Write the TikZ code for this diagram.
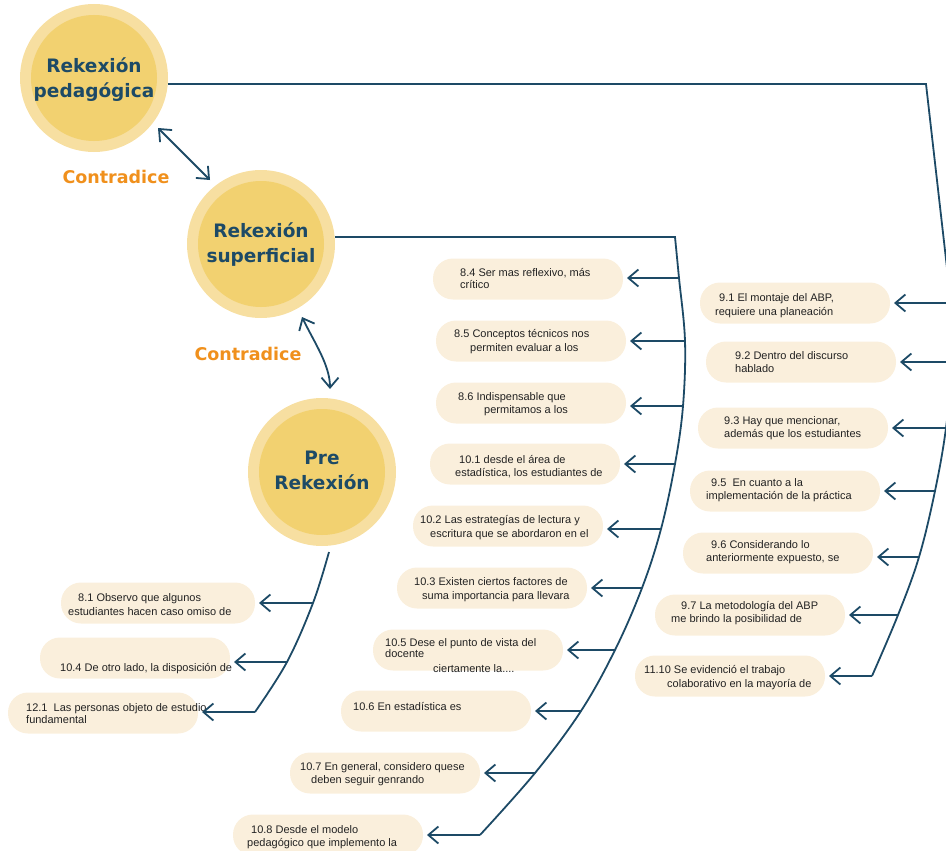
\documentclass[tikz,border=0pt]{standalone}
\usepackage{fontspec}
\setmainfont{Liberation Sans}
\newfontfamily\headfont{DejaVu Sans}
\usetikzlibrary{arrows.meta,calc}
\definecolor{navy}{HTML}{1D4A66}
\definecolor{ringc}{HTML}{F7DFA1}
\definecolor{corec}{HTML}{F2D170}
\definecolor{boxc}{HTML}{FAEFDC}
\definecolor{orangec}{HTML}{F0901C}
\definecolor{txtc}{HTML}{222222}
\newcounter{lnum}
\newcommand\tline[3]{\stepcounter{lnum}\node[txt] (l\arabic{lnum}) at (#1,#2+4) {#3};}
\tikzset{
  ln/.style={draw=navy, line width=1.8pt},
  arr/.style={ln, -{Straight Barb[length=10pt,width=17pt]}},
  dbl/.style={ln, {Straight Barb[length=10pt,width=17pt]}-{Straight Barb[length=10pt,width=17pt]}},
  box/.style={fill=boxc, rounded corners=20pt, minimum width=190pt, minimum height=41pt, inner sep=0pt, outer xsep=4pt},
  txt/.style={font=\fontsize{11}{13}\selectfont, text=txtc, inner sep=0pt, anchor=base west},
  ring/.style={circle, fill=ringc, minimum size=148pt, inner sep=0pt},
  core/.style={circle, fill=corec, minimum size=126pt, inner sep=0pt},
  ctext/.style={text=navy, align=center, inner sep=0pt, font=\headfont\bfseries\fontsize{18.5}{25}\selectfont},
  lab/.style={text=orangec, font=\headfont\bfseries\fontsize{17.5}{20}\selectfont, inner sep=0pt}
}
\begin{document}
\begin{tikzpicture}[x=1pt,y=-1pt]
\useasboundingbox (0,0) rectangle (946,851);

% circles
\node[ring] (c1) at (94,78) {};
\node[core] (c1i) at (c1) {};
\node[ctext] (c1t) at ([yshift=-2pt]c1) {Rekexión\\pedagógica};
\node[ring] (c2) at (261,244) {};
\node[core] (c2i) at (c2) {};
\node[ctext] (c2t) at ([yshift=-1pt]c2) {Rekexión\\superficial};
\node[ring] (c3) at (322,472) {};
\node[core] (c3i) at (c3) {};
\node[ctext] (c3t) at ([yshift=2pt]c3) {Pre\\Rekexión};

\node[lab] (k1) at (116,177) {Contradice};
\node[lab] (k2) at (248,354) {Contradice};

\coordinate (t1) at (158,128);
\coordinate (t2) at (210,180);
\coordinate (t3) at (302,317);
\coordinate (t4) at (330,389);
\draw[dbl] (t1) -- (t2);
\draw[dbl] (t3) .. controls (314,342) and (330,365) .. (t4);

% boxes right
\node[box] (b91) at (795,303) {};
\node[box] (b92) at (801,362) {};
\node[box] (b93) at (793,428) {};
\node[box] (b95) at (785,491) {};
\node[box] (b96) at (778,553) {};
\node[box] (b97) at (750,615) {};
\node[box] (b1110) at (730,676) {};
% boxes middle
\node[box] (b84) at (528,279) {};
\node[box] (b85) at (531,341) {};
\node[box] (b86) at (531,403) {};
\node[box] (b101) at (525,464) {};
\node[box] (b102) at (508,526) {};
\node[box] (b103) at (492,588) {};
\node[box] (b105) at (468,650) {};
\node[box] (b106) at (436,711) {};
\node[box] (b107) at (385,773) {};
\node[box] (b108) at (328,835) {};
% boxes left
\node[box, minimum width=194pt] (b81) at (158,603) {};
\node[box] (b104) at (135,658) {};
\node[box] (b121) at (103,713) {};

% texts right
\tline{719}{297}{9.1 El montaje del ABP,}
\tline{715}{311}{requiere una planeación}
\tline{735}{355}{9.2 Dentro del discurso}
\tline{735}{368}{hablado}
\tline{724}{420}{9.3 Hay que mencionar,}
\tline{724}{433}{además que los estudiantes}
\tline{711}{482}{9.5\ \ En cuanto a la}
\tline{706}{495}{implementación de la práctica}
\tline{711}{544}{9.6 Considerando lo}
\tline{706}{557}{anteriormente expuesto, se}
\tline{681}{605}{9.7 La metodología del ABP}
\tline{671}{618}{me brindo la posibilidad de}
\tline{644}{669}{11.10 Se evidenció el trabajo}
\tline{667}{683}{colaborativo en la mayoría de}
% texts middle
\tline{460}{272}{8.4 Ser mas reflexivo, más}
\tline{460}{284}{crítico}
\tline{454}{333}{8.5 Conceptos técnicos nos}
\tline{470}{347}{permiten evaluar a los}
\tline{458}{396}{8.6 Indispensable que}
\tline{484}{409}{permitamos a los}
\tline{459}{459}{10.1 desde el área de}
\tline{455}{472}{estadística, los estudiantes de}
\tline{420}{519}{10.2 Las estrategías de lectura y}
\tline{430}{533}{escritura que se abordaron en el}
\tline{414}{581}{10.3 Existen ciertos factores de}
\tline{422}{595}{suma importancia para llevara}
\tline{385}{642}{10.5 Dese el punto de vista del}
\tline{385}{653}{docente}
\tline{433}{668}{ciertamente la....}
\tline{353}{706}{10.6 En estadística es}
\tline{300}{766}{10.7 En general, considero quese}
\tline{311}{779}{deben seguir genrando}
\tline{251}{829}{10.8 Desde el modelo}
\tline{247}{842}{pedagógico que implemento la}
% texts left
\tline{78}{597}{8.1 Observo que algunos}
\tline{68}{611}{estudiantes hacen caso omiso de}
\tline{60}{667}{10.4 De otro lado, la disposición de}
\tline{26}{707}{12.1\ \ Las personas objeto de estudio}
\tline{26}{719}{fundamental}

% right spine
\coordinate (r0) at (926,84);
\coordinate (s91) at (951,303);
\coordinate (s92) at (952,362);
\coordinate (s93) at (946,428);
\coordinate (s95) at (935,491);
\coordinate (s96) at (919,557);
\coordinate (s97) at (898,615);
\coordinate (s1110) at (872,676);
\draw[ln] (c1.east |- r0) -- (r0) -- plot[smooth, tension=0.6] coordinates {(s91) (s92) (s93) (s95) (s96) (s97) (s1110)};
\foreach \n in {91,92,93,95,96,97,1110} \draw[arr] (s\n) -- (s\n -| b\n.east);

% middle spine
\coordinate (m1) at (675,237);
\coordinate (s84) at (679,278);
\coordinate (s85) at (685,341);
\coordinate (s86) at (683,406);
\coordinate (s101) at (675,464);
\coordinate (s102) at (661,529);
\coordinate (s103) at (642,588);
\coordinate (s105) at (615,650);
\coordinate (s106) at (581,711);
\coordinate (s107) at (535,773);
\coordinate (s108) at (480,835);
\draw[ln] (c2.east |- m1) -- plot[smooth, tension=0.6] coordinates {(m1) (s84) (s85) (s86) (s101) (s102) (s103) (s105) (s106) (s107) (s108)};
\foreach \n in {84,85,86,101,102,103,105,106,107,108} \draw[arr] (s\n) -- (s\n -| b\n.east);

% left spine
\coordinate (p0) at (329,552);
\coordinate (s81) at (313,603);
\coordinate (s104) at (287,662);
\coordinate (s121) at (255,712);
\draw[ln] plot[smooth, tension=0.6] coordinates {(p0) (s81) (s104) (s121)};
\foreach \n in {81,104,121} \draw[arr] (s\n) -- (s\n -| b\n.east);
\end{tikzpicture}
\end{document}
